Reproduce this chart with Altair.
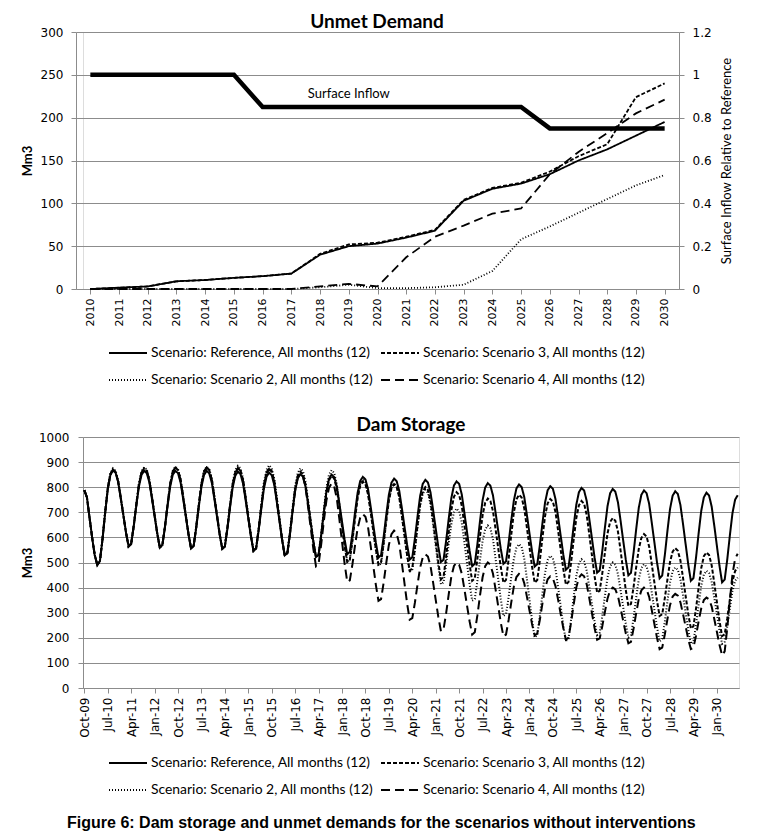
import altair as alt
import pandas as pd

# ---------------- Unmet demand (annual) ----------------
years = [str(y) for y in range(2010, 2031)]
unmet_reference = [0, 1.5, 3, 9, 10.5, 13, 15, 18, 40, 50, 53, 60, 68, 103, 117, 123, 134, 150, 163, 179, 195]
unmet_scenario3 = [0, 1.5, 3, 9, 10.5, 13, 15, 18, 41, 52, 54, 61, 69, 104, 118, 124, 137, 155, 169, 224, 240]
unmet_scenario2 = [0, 0, 0, 0, 0, 0, 0, 0, 2, 5, 1, 1, 2, 5, 21, 58, 73, 89, 105, 121, 133]
unmet_scenario4 = [0, 0, 0, 0, 0, 0, 0, 0, 3, 6, 3, 37, 61, 74, 88, 94, 134, 160, 182, 205, 221]
surface_inflow = [1, 1, 1, 1, 1, 1, 0.85, 0.85, 0.85, 0.85, 0.85, 0.85, 0.85, 0.85, 0.85, 0.85,
                  0.75, 0.75, 0.75, 0.75, 0.75]
inflow_label = ["Surface Inflow"]
inflow_label_year = ["2019"]
inflow_label_value = [0.91]

# ---------------- Dam storage (monthly, Oct..Sep per water year) ----------------
storage_reference = [
    [788, 760, 680, 600, 530, 490, 506, 593, 696, 791, 848, 867],
    [858, 821, 756, 689, 621, 566, 575, 645, 728, 804, 850, 865],
    [856, 819, 753, 685, 617, 561, 571, 642, 726, 803, 850, 865],
    [856, 818, 752, 682, 613, 556, 566, 638, 723, 802, 849, 865],
    [855, 817, 751, 681, 611, 554, 564, 636, 721, 799, 846, 862],
    [852, 814, 746, 675, 604, 546, 556, 629, 715, 794, 842, 858],
    [848, 808, 737, 663, 589, 529, 539, 614, 704, 786, 836, 852],
    [842, 801, 731, 657, 582, 522, 532, 609, 699, 783, 833, 850],
    [840, 802, 734, 663, 592, 533, 543, 615, 700, 778, 825, 841],
    [831, 792, 723, 651, 579, 520, 529, 603, 690, 770, 818, 834],
    [824, 785, 716, 643, 571, 512, 521, 596, 683, 764, 813, 829],
    [819, 779, 709, 635, 562, 502, 511, 587, 675, 757, 807, 823],
    [813, 771, 699, 623, 547, 485, 495, 573, 664, 748, 799, 816],
    [806, 767, 698, 626, 554, 495, 504, 578, 666, 746, 795, 811],
    [801, 761, 691, 617, 544, 484, 493, 569, 657, 739, 788, 804],
    [794, 753, 682, 607, 532, 471, 481, 557, 647, 730, 780, 797],
    [787, 745, 673, 597, 521, 459, 469, 547, 640, 725, 776, 793],
    [782, 740, 667, 589, 512, 449, 459, 539, 632, 718, 770, 787],
    [776, 733, 658, 580, 501, 437, 448, 529, 625, 713, 766, 784],
    [773, 729, 653, 573, 493, 427, 438, 520, 617, 706, 760, 778],
    [767, 723, 647, 567, 487, 421, 432, 513, 609, 697, 750, 768],
]
storage_scenario3 = [
    [788, 760, 680, 600, 530, 490, 506, 594, 698, 793, 851, 870],
    [861, 823, 758, 689, 620, 564, 574, 647, 732, 812, 859, 875],
    [865, 827, 759, 688, 617, 559, 569, 644, 732, 813, 862, 878],
    [868, 829, 760, 688, 616, 557, 566, 642, 730, 812, 862, 878],
    [868, 829, 759, 687, 614, 555, 564, 640, 728, 810, 860, 876],
    [866, 826, 755, 681, 607, 547, 557, 634, 725, 809, 859, 876],
    [865, 823, 748, 670, 591, 527, 537, 616, 708, 794, 845, 862],
    [852, 810, 736, 660, 583, 520, 530, 606, 696, 779, 828, 845],
    [835, 793, 719, 642, 565, 502, 511, 587, 675, 757, 806, 822],
    [812, 771, 701, 627, 552, 492, 501, 577, 665, 747, 796, 812],
    [801, 759, 685, 608, 530, 467, 477, 555, 647, 732, 783, 800],
    [789, 744, 665, 583, 500, 433, 443, 524, 620, 709, 762, 780],
    [769, 726, 650, 571, 492, 427, 437, 514, 604, 688, 738, 755],
    [745, 704, 632, 557, 481, 420, 431, 513, 609, 699, 752, 770],
    [759, 716, 641, 563, 484, 420, 430, 508, 600, 685, 736, 753],
    [743, 701, 628, 551, 475, 412, 422, 500, 592, 677, 728, 745],
    [734, 689, 611, 529, 447, 380, 388, 458, 540, 616, 662, 677],
    [666, 623, 548, 470, 391, 327, 335, 402, 481, 554, 598, 613],
    [603, 563, 493, 420, 347, 287, 294, 358, 432, 502, 543, 557],
    [547, 508, 439, 367, 295, 237, 246, 317, 401, 478, 525, 540],
    [530, 489, 418, 343, 268, 207, 214, 278, 354, 424, 466, 480],
]
storage_scenario2 = [
    [788, 760, 680, 600, 530, 490, 506, 596, 700, 797, 856, 875],
    [865, 827, 761, 691, 621, 564, 574, 648, 735, 816, 864, 880],
    [870, 831, 762, 690, 618, 560, 569, 645, 734, 816, 866, 882],
    [872, 832, 762, 689, 616, 557, 567, 643, 733, 816, 865, 882],
    [872, 832, 762, 688, 615, 555, 565, 642, 733, 818, 868, 885],
    [875, 833, 761, 685, 609, 547, 557, 637, 731, 818, 870, 887],
    [876, 832, 755, 674, 593, 527, 538, 619, 715, 804, 857, 875],
    [864, 821, 745, 666, 587, 522, 533, 614, 709, 797, 850, 868],
    [857, 812, 734, 652, 570, 502, 512, 589, 679, 763, 813, 830],
    [820, 778, 704, 627, 550, 487, 497, 574, 664, 748, 798, 815],
    [804, 761, 685, 606, 527, 462, 472, 549, 639, 723, 773, 790],
    [778, 732, 651, 567, 482, 413, 421, 492, 576, 653, 700, 715],
    [704, 659, 580, 498, 415, 348, 355, 426, 509, 586, 632, 647],
    [636, 592, 515, 434, 353, 287, 295, 362, 441, 514, 558, 573],
    [562, 516, 436, 353, 269, 201, 210, 287, 377, 460, 510, 527],
    [517, 475, 402, 326, 249, 187, 197, 273, 363, 446, 496, 513],
    [504, 467, 402, 334, 267, 211, 220, 288, 367, 441, 485, 500],
    [491, 454, 390, 323, 256, 201, 210, 278, 359, 433, 478, 493],
    [484, 446, 380, 311, 243, 186, 195, 264, 345, 420, 465, 480],
    [471, 434, 368, 300, 232, 176, 185, 253, 333, 408, 452, 467],
    [458, 422, 360, 295, 229, 176, 184, 246, 319, 386, 427, 440],
]
storage_scenario4 = [
    [788, 760, 680, 600, 530, 490, 506, 594, 698, 793, 851, 870],
    [861, 823, 758, 689, 620, 564, 574, 647, 732, 812, 859, 875],
    [865, 827, 759, 688, 617, 559, 569, 644, 732, 813, 862, 878],
    [868, 829, 760, 688, 616, 557, 566, 642, 730, 812, 862, 878],
    [868, 829, 759, 687, 614, 555, 564, 640, 728, 810, 859, 875],
    [865, 825, 754, 681, 607, 547, 557, 633, 723, 806, 855, 872],
    [861, 819, 745, 667, 589, 525, 535, 612, 703, 788, 838, 855],
    [844, 798, 719, 636, 553, 485, 494, 572, 663, 747, 798, 815],
    [803, 755, 671, 583, 495, 423, 429, 493, 568, 637, 679, 693],
    [682, 640, 566, 488, 411, 347, 354, 420, 498, 570, 613, 627],
    [616, 573, 497, 417, 337, 272, 278, 340, 412, 479, 520, 533],
    [524, 486, 420, 351, 283, 226, 234, 298, 374, 444, 486, 500],
    [491, 456, 395, 330, 266, 213, 222, 289, 368, 441, 485, 500],
    [491, 455, 392, 326, 260, 206, 213, 271, 340, 404, 442, 455],
    [448, 418, 365, 310, 255, 210, 217, 272, 337, 397, 433, 445],
    [437, 406, 352, 295, 239, 192, 200, 261, 333, 400, 440, 453],
    [445, 413, 357, 299, 240, 192, 198, 247, 304, 357, 389, 400],
    [393, 366, 318, 268, 218, 178, 184, 237, 298, 355, 389, 400],
    [393, 363, 310, 255, 200, 155, 161, 213, 274, 330, 364, 375],
    [368, 341, 294, 245, 195, 155, 161, 209, 266, 318, 350, 360],
    [353, 325, 275, 224, 172, 130, 146, 240, 351, 453, 515, 535],
]

# legend order is column-major: Reference, Scenario 2 | Scenario 3, Scenario 4
scen_ref = "Scenario: Reference, All months (12)"
scen_2 = "Scenario: Scenario 2, All months (12)"
scen_3 = "Scenario: Scenario 3, All months (12)"
scen_4 = "Scenario: Scenario 4, All months (12)"
scenarios = [scen_ref, scen_2, scen_3, scen_4]
dashes = [[1, 0], [1, 2], [4, 2], [9, 5]]

# month category labels (Oct-09 .. Sep-30)
month_names_a = ["Oct", "Nov", "Dec"]
month_names_b = ["Jan", "Feb", "Mar", "Apr", "May", "Jun", "Jul", "Aug", "Sep"]
month_labels = []
for k in range(21):
    for m in month_names_a:
        month_labels.append(f"{m}-{(9 + k) % 100:02d}")
    for m in month_names_b:
        month_labels.append(f"{m}-{(10 + k) % 100:02d}")
shown_months = month_labels[::9]

# ---------------- tables ----------------
rows = []
for name, vals in zip([scen_ref, scen_3, scen_2, scen_4],
                      [unmet_reference, unmet_scenario3, unmet_scenario2, unmet_scenario4]):
    for y, v in zip(years, vals):
        rows.append({"year": y, "scenario": name, "value": v})
unmet_df = pd.DataFrame(rows)
inflow_df = pd.DataFrame({"year": years, "inflow": surface_inflow})
label_df = pd.DataFrame({"year": inflow_label_year, "inflow": inflow_label_value, "text": inflow_label})

rows = []
for name, table in zip([scen_ref, scen_3, scen_2, scen_4],
                       [storage_reference, storage_scenario3, storage_scenario2, storage_scenario4]):
    flat = [v for yr in table for v in yr]
    for m, v in zip(month_labels, flat):
        rows.append({"month": m, "scenario": name, "value": v})
storage_df = pd.DataFrame(rows)

GRID = "#8c8c8c"
LABEL_FONT = "DejaVu Sans"
TEXT_FONT = "Lato"
SHIFT = 7  # top panel's frame sits 7px left of the lower panel's frame


def make_legend(lx, ly):
    return alt.Legend(title=None, orient="none", legendX=lx, legendY=ly, columns=2,
                      symbolType="stroke", symbolSize=1444, symbolStrokeWidth=2,
                      symbolStrokeColor="black", labelFont=TEXT_FONT, labelFontSize=13.9,
                      labelColor="black", columnPadding=3, rowPadding=-11, labelLimit=400,
                      padding=0, symbolOffset=0, labelOffset=3)


dash_scale = alt.Scale(domain=scenarios, range=dashes)

# ---------------- top chart ----------------
TOP_W = 596
TOP_H = 257
x_top = alt.X("year:O", sort=years, scale=alt.Scale(range=[-SHIFT, TOP_W]),
              axis=alt.Axis(title=None, labelAngle=-90, labelFont=LABEL_FONT, labelFontSize=11,
                            labelColor="black", domainColor=GRID, tickColor=GRID, tickSize=5,
                            labelPadding=4, labelBaseline="middle", labelAlign="right"))

lines_top = alt.Chart(unmet_df).mark_line(color="black", strokeWidth=1.8).encode(
    x=x_top,
    y=alt.Y("value:Q", scale=alt.Scale(domain=[0, 300]),
            axis=alt.Axis(title="Mm3", values=list(range(0, 301, 50)), grid=True, gridColor=GRID,
                          domainColor=GRID, tickColor=GRID, tickSize=5, labelFont=LABEL_FONT,
                          labelFontSize=12, labelColor="black", labelPadding=8, offset=SHIFT,
                          titleFont=TEXT_FONT, titleFontSize=13, titleFontWeight="bold",
                          titleColor="black", titlePadding=6)),
    strokeDash=alt.StrokeDash("scenario:N", scale=dash_scale, legend=make_legend(25, 301)),
)

right_axis = alt.Axis(orient="right", title="Surface Inflow  Relative to Reference",
                      values=[0, 0.2, 0.4, 0.6, 0.8, 1.0, 1.2], format=".1~f", grid=False,
                      domainColor=GRID, tickColor=GRID, tickSize=5, labelFont=LABEL_FONT,
                      labelFontSize=12, labelColor="black", labelPadding=8,
                      titleFont=TEXT_FONT, titleFontSize=13, titleFontWeight="normal",
                      titleColor="black", titleAngle=270, titlePadding=22)

inflow_line = alt.Chart(inflow_df).mark_line(color="black", strokeWidth=4.5).encode(
    x=x_top,
    y=alt.Y("inflow:Q", scale=alt.Scale(domain=[0, 1.2]), axis=right_axis),
)
inflow_text = alt.Chart(label_df).mark_text(font=TEXT_FONT, fontSize=13, color="black").encode(
    x=x_top,
    y=alt.Y("inflow:Q", scale=alt.Scale(domain=[0, 1.2]), axis=right_axis),
    text="text:N",
)

top = alt.layer(lines_top, alt.layer(inflow_line, inflow_text)).resolve_scale(
    y="independent"
).properties(
    width=TOP_W, height=TOP_H,
    title=alt.TitleParams("Unmet Demand", font=TEXT_FONT, fontSize=19, fontWeight="bold",
                          anchor="middle", frame="group", color="black", offset=-6, dx=-4),
)

# ---------------- bottom chart ----------------
bottom = alt.Chart(storage_df).mark_line(color="black", strokeWidth=2).encode(
    x=alt.X("month:O", sort=month_labels,
            axis=alt.Axis(title=None, values=shown_months, labelAngle=-90, labelFont=LABEL_FONT,
                          labelFontSize=12, labelColor="black", domainColor=GRID, tickColor=GRID,
                          tickSize=5, labelPadding=4, labelOverlap=False,
                          labelBaseline="middle", labelAlign="right")),
    y=alt.Y("value:Q", scale=alt.Scale(domain=[0, 1000]),
            axis=alt.Axis(title="Mm3", values=list(range(0, 1001, 100)), format="d", grid=True,
                          gridColor=GRID, domainColor=GRID, tickColor=GRID, tickSize=5,
                          labelFont=LABEL_FONT, labelFontSize=12, labelColor="black",
                          labelPadding=9, minExtent=44, maxExtent=44,
                          titleFont=TEXT_FONT, titleFontSize=13,
                          titleFontWeight="bold", titleColor="black", titlePadding=5)),
    strokeDash=alt.StrokeDash("scenario:N", scale=dash_scale, legend=make_legend(25, 306)),
).properties(
    width=656, height=251,
    title=alt.TitleParams("Dam Storage", font=TEXT_FONT, fontSize=19, fontWeight="bold",
                          anchor="middle", color="black", offset=-4),
)

chart = alt.vconcat(top, bottom, spacing=27).resolve_scale(
    x="independent", y="independent", strokeDash="independent"
).resolve_legend(strokeDash="independent").properties(
    title=alt.TitleParams("Figure 6: Dam storage and unmet demands for the scenarios without interventions",
                          orient="bottom", anchor="middle", font="Liberation Sans Narrow, Liberation Sans",
                          fontSize=16, fontWeight="bold", color="black", offset=17),
    padding={"left": 12, "top": 4, "right": 0, "bottom": 0},
).configure_view(stroke="transparent").configure(background="white")

chart.save("out.html", embed_options={"renderer": "svg", "actions": False})
